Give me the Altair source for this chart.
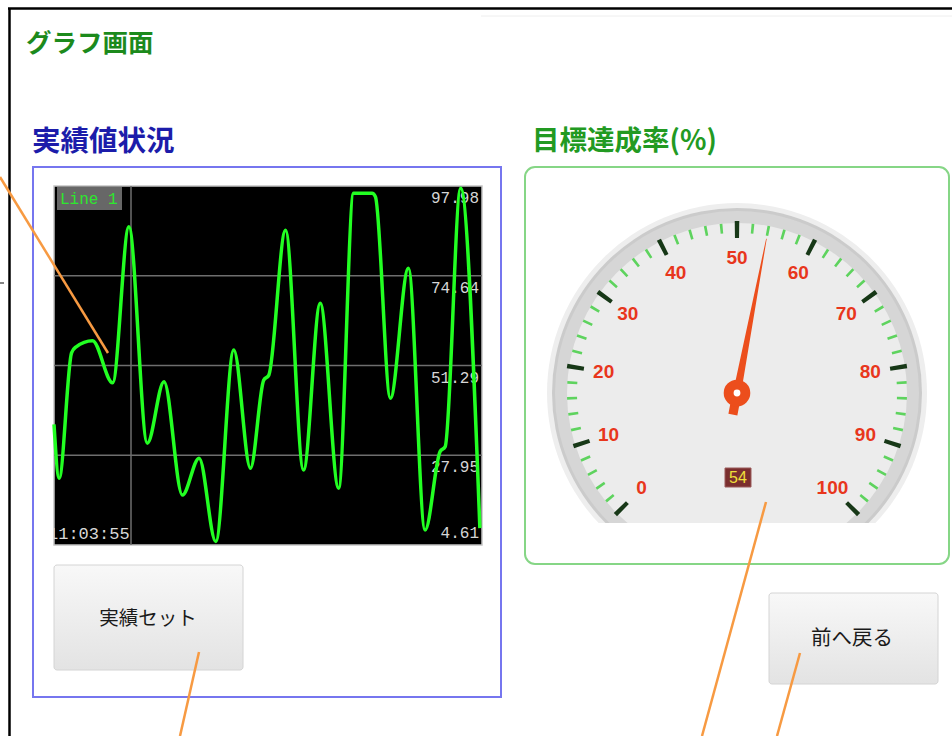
import altair as alt
import pandas as pd

# ---------------- data ----------------
trend_t = [0, 1.2, 4.1, 5.1, 9.0, 13.7, 17.5, 21.8, 25.7, 30.0, 33.9, 37.8, 42.0, 45.9,
           49.0, 50.2, 54.1, 58.3, 62.2, 66.5, 70.0, 74.3, 75.1, 78.6, 82.8, 86.7,
           90.2, 91.4, 95.0, 99.5]
trend_v = [36.0, 22.0, 54.6, 56.1, 57.75, 46.8, 87.4, 31.1, 47.1, 17.6, 27.2, 5.5, 55.3, 24.6,
           47.5, 48.8, 86.5, 24.1, 67.5, 19.4, 96.1, 96.1, 95.2, 42.8, 76.6, 8.5,
           28.9, 30.2, 97.4, 9.0]
y_labels = [97.98, 74.64, 51.29, 27.95, 4.61]
grid_values = [74.64, 51.29, 27.95]
time_label = "11:03:55"
series_name = "Line 1"
gauge_major = list(range(0, 101, 10))
gauge_minor = [v for v in range(2, 100, 2) if v % 10]
gauge_value = 54

page_title = "グラフ画面"
left_title = "実績値状況"
right_title = "目標達成率(%)"
button_left = "実績セット"
button_right = "前へ戻る"

# ---------------- layout / style ----------------
CX, CY = 737, 393
X_SCALE = alt.Scale(domain=[0, 100], range=[54, 482], nice=False, zero=False)
Y_SCALE = alt.Scale(domain=[4.61, 97.98], range=[545, 186], nice=False, zero=False)
THETA_SCALE = alt.Scale(domain=[0, 100], range=[3.92699, 8.63938])
ANGLE_SCALE = alt.Scale(domain=[0, 100], range=[225, 495])
NEEDLE_PATH = ("M -0.029 0.14 L -0.029 0 L -0.0255 0 L -0.002 -1 L 0.002 -1 "
               "L 0.0255 0 L 0.029 0 L 0.029 0.14 Z")
CJK = "Noto Sans CJK JP"
MONO = "Liberation Mono"
ORANGE = "#f79a42"

ONE = pd.DataFrame({"a": [0]})


def rect(x, x2, y, y2, **mark):
    return alt.Chart(ONE).mark_rect(**mark).encode(
        x=alt.value(x), x2=alt.value(x2), y=alt.value(y), y2=alt.value(y2))


def seg(x, y, x2, y2, **mark):
    return alt.Chart(ONE).mark_rule(**mark).encode(
        x=alt.value(x), y=alt.value(y), x2=alt.value(x2), y2=alt.value(y2))


def label(text, x, y, **mark):
    return alt.Chart(ONE).mark_text(text=text, **mark).encode(
        x=alt.value(x), y=alt.value(y))


def disk(r_out, r_in, color):
    return alt.Chart(ONE).mark_arc(color=color).encode(
        x=alt.value(CX), y=alt.value(CY),
        theta=alt.value(0), theta2=alt.value(6.2832),
        radius=alt.value(r_out), radius2=alt.value(r_in))


layers = []

# frame
layers.append(seg(8, 8.5, 952, 8.5, color="black", strokeWidth=2.5))
layers.append(seg(9.5, 8, 9.5, 736, color="black", strokeWidth=2.5))
layers.append(seg(481, 16, 952, 16, color="#eeeeee", strokeWidth=1))
layers.append(seg(0, 283, 4, 283, color="#333333", strokeWidth=1.2))

# titles
layers.append(label(page_title, 26, 44, align="left", baseline="middle", font=CJK,
                    fontWeight="bold", fontSize=25.5, color="#1c8a1c"))
layers.append(label(left_title, 32, 142, align="left", baseline="middle", font=CJK,
                    fontWeight="bold", fontSize=28.5, color="#1c1caa"))
layers.append(label(right_title, 532, 142, align="left", baseline="middle", font=CJK,
                    fontWeight="bold", fontSize=27.5, color="#229a22"))

# left panel
layers.append(rect(33, 501, 167, 697, fillOpacity=0, stroke="#7676ef", strokeWidth=2))
layers.append(rect(54, 482, 186, 545, color="black", stroke="#c4c4c4", strokeWidth=1.5))

grid_df = pd.DataFrame({"v": grid_values})
layers.append(alt.Chart(grid_df).mark_rule(color="#6e6e6e", strokeWidth=1.5).encode(
    y=alt.Y("v:Q", scale=Y_SCALE, axis=None), x=alt.value(54), x2=alt.value(482)))
layers.append(seg(131, 186, 131, 545, color="#6e6e6e", strokeWidth=1.5))

lab_df = pd.DataFrame({"v": y_labels[:-1]})
layers.append(alt.Chart(lab_df).mark_text(align="right", baseline="top", dy=4, font=MONO,
                                          fontSize=16, color="#d6d6d6").encode(
    y=alt.Y("v:Q", scale=Y_SCALE, axis=None), x=alt.value(479),
    text=alt.Text("v:Q", format=".2f")))
lab_df2 = pd.DataFrame({"v": y_labels[-1:]})
layers.append(alt.Chart(lab_df2).mark_text(align="right", baseline="bottom", dy=-4, font=MONO,
                                           fontSize=16, color="#d6d6d6").encode(
    y=alt.Y("v:Q", scale=Y_SCALE, axis=None), x=alt.value(479),
    text=alt.Text("v:Q", format=".2f")))

layers.append(rect(57, 122, 187, 210, color="#676767"))
layers.append(label(series_name, 60, 199, align="left", baseline="middle", font=MONO,
                    fontSize=16, color="#2ee82e"))

trend_df = pd.DataFrame({"t": trend_t, "v": trend_v})
layers.append(alt.Chart(trend_df).mark_line(interpolate="monotone", color="#22ff22",
                                            strokeWidth=3.5).encode(
    x=alt.X("t:Q", scale=X_SCALE, axis=None),
    y=alt.Y("v:Q", scale=Y_SCALE, axis=None)))

layers.append(label(time_label, 48, 534, align="left", baseline="middle", font=MONO,
                    fontSize=17, color="#d8d8d8"))
layers.append(rect(38, 53, 520, 547, color="white"))

# buttons
grad = alt.Gradient(gradient="linear", x1=0, x2=0, y1=0, y2=1,
                    stops=[alt.GradientStop(color="#f8f8f8", offset=0),
                           alt.GradientStop(color="#e3e3e3", offset=1)])
layers.append(rect(54, 243, 565, 670, fill=grad, stroke="#d4d4d4", strokeWidth=1,
                   cornerRadius=3))
layers.append(label(button_left, 148, 619, align="center", baseline="middle", font=CJK,
                    fontSize=19.5, color="#1a1a1a"))
layers.append(rect(769, 938, 593, 684, fill=grad, stroke="#d4d4d4", strokeWidth=1,
                   cornerRadius=3))
layers.append(label(button_right, 852, 639, align="center", baseline="middle", font=CJK,
                    fontSize=20.5, color="#1a1a1a"))

# gauge
layers.append(disk(190, 0, "#eeeeee"))
layers.append(disk(185, 0, "#cbcbcb"))
layers.append(disk(182, 0, "#d6d6d6"))
layers.append(disk(170, 0, "#ececec"))

maj_df = pd.DataFrame({"v": gauge_major})
maj_df["a"] = maj_df["v"] - 0.28
maj_df["b"] = maj_df["v"] + 0.28
layers.append(alt.Chart(maj_df).mark_arc(color="#173817").encode(
    theta=alt.Theta("a:Q", scale=THETA_SCALE, stack=False), theta2=alt.Theta2("b:Q"),
    radius=alt.value(172), radius2=alt.value(155), x=alt.value(CX), y=alt.value(CY)))
min_df = pd.DataFrame({"v": gauge_minor})
min_df["a"] = min_df["v"] - 0.17
min_df["b"] = min_df["v"] + 0.17
layers.append(alt.Chart(min_df).mark_arc(color="#5ed35e").encode(
    theta=alt.Theta("a:Q", scale=THETA_SCALE, stack=False), theta2=alt.Theta2("b:Q"),
    radius=alt.value(170), radius2=alt.value(160), x=alt.value(CX), y=alt.value(CY)))
layers.append(alt.Chart(maj_df).mark_text(font="Liberation Sans", fontWeight="bold",
                                          fontSize=19, color="#e8361c").encode(
    theta=alt.Theta("v:Q", scale=THETA_SCALE, stack=False), radius=alt.value(135),
    x=alt.value(CX), y=alt.value(CY), text="v:Q"))

val_df = pd.DataFrame({"v": [gauge_value]})
layers.append(rect(725, 751, 468, 487, color="#7a2e2e", stroke="#9a5a5a", strokeWidth=1))
layers.append(alt.Chart(val_df).mark_text(font="Liberation Sans", fontSize=16,
                                          color="#efe03a").encode(
    x=alt.value(738), y=alt.value(478), text="v:Q"))

layers.append(alt.Chart(val_df).mark_point(shape=NEEDLE_PATH, filled=True, opacity=1,
                                           size=98596, color="#ec4e1c", strokeWidth=0).encode(
    x=alt.value(CX), y=alt.value(CY),
    angle=alt.Angle("v:Q", scale=ANGLE_SCALE)))
hub = alt.Chart(ONE).mark_arc(color="#ec4e1c").encode(
    x=alt.value(CX), y=alt.value(CY), theta=alt.value(0), theta2=alt.value(6.2832),
    radius=alt.value(13.3), radius2=alt.value(0))
layers.append(hub)
layers.append(alt.Chart(ONE).mark_arc(color="white").encode(
    x=alt.value(CX), y=alt.value(CY), theta=alt.value(0), theta2=alt.value(6.2832),
    radius=alt.value(3.4), radius2=alt.value(0)))

# cut the gauge bottom, then the green panel border
layers.append(rect(540, 935, 523, 589, color="white"))
layers.append(rect(525, 949, 167, 564, fillOpacity=0, stroke="#86d686", strokeWidth=2,
                   cornerRadius=10))

# orange annotation lines
layers.append(seg(0, 177, 108, 353, color=ORANGE, strokeWidth=2.5))
layers.append(seg(199, 652, 180, 736, color=ORANGE, strokeWidth=2.5))
layers.append(seg(766, 502, 702, 736, color=ORANGE, strokeWidth=2.5))
layers.append(seg(800, 653, 777, 736, color=ORANGE, strokeWidth=2.5))

chart = alt.layer(*layers).properties(
    width=952, height=736, padding=0, autosize="none", background="white"
).configure_view(strokeWidth=0)

chart.save("out.html", embed_options={"renderer": "svg", "actions": False})
